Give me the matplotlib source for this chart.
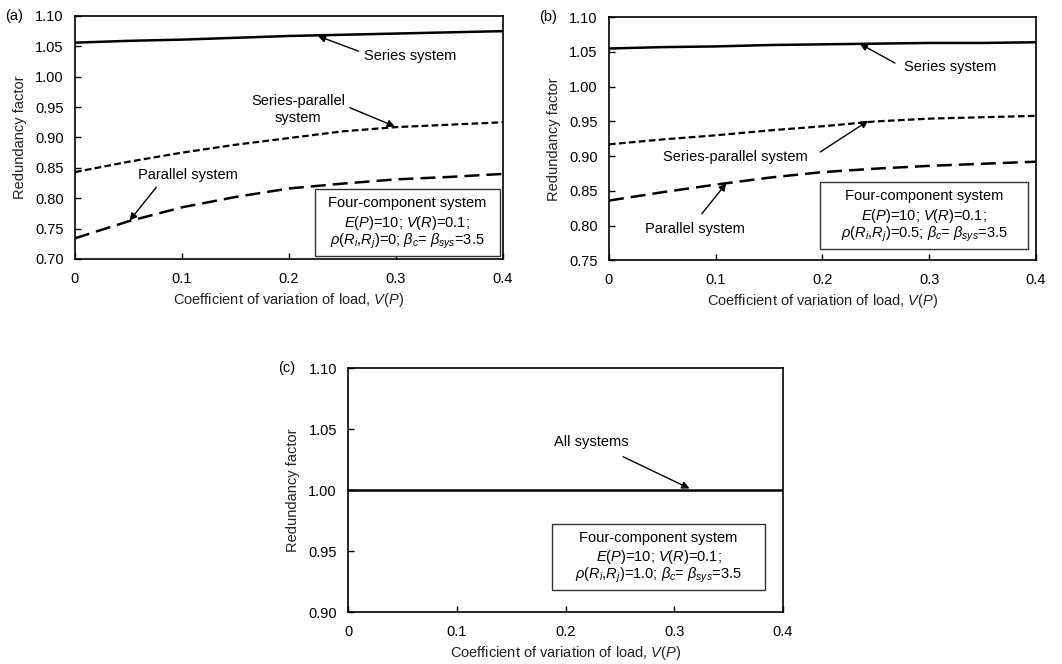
import matplotlib
matplotlib.use('Agg')
import matplotlib.pyplot as plt
from matplotlib.patches import Rectangle

plt.rcParams['font.family'] = ['Liberation Sans', 'DejaVu Sans']
plt.rcParams['mathtext.fontset'] = 'custom'
plt.rcParams['mathtext.rm'] = 'Liberation Sans'
plt.rcParams['mathtext.it'] = 'Liberation Sans:italic'
plt.rcParams['mathtext.bf'] = 'Liberation Sans:bold'

# coefficient of variation of load
vp = [0.0, 0.05, 0.1, 0.15, 0.2, 0.25, 0.3, 0.35, 0.4]

# (a) rho = 0
a_series = [1.056, 1.059, 1.061, 1.064, 1.067, 1.069, 1.071, 1.073, 1.075]
a_serpar = [0.843, 0.860, 0.875, 0.888, 0.899, 0.910, 0.917, 0.921, 0.925]
a_parallel = [0.734, 0.762, 0.785, 0.802, 0.816, 0.824, 0.831, 0.835, 0.840]

# (b) rho = 0.5
b_series = [1.055, 1.057, 1.058, 1.060, 1.061, 1.062, 1.063, 1.063, 1.064]
b_serpar = [0.917, 0.924, 0.930, 0.937, 0.943, 0.950, 0.954, 0.956, 0.958]
b_parallel = [0.836, 0.848, 0.859, 0.869, 0.877, 0.882, 0.886, 0.889, 0.892]

# (c) rho = 1.0
c_all = [1.0, 1.0, 1.0, 1.0, 1.0, 1.0, 1.0, 1.0, 1.0]

fig = plt.figure(figsize=(10.62, 6.64), dpi=100)

ax_a = fig.add_axes([0.0706, 0.610, 0.403, 0.366])
ax_b = fig.add_axes([0.5734, 0.608, 0.402, 0.366])
ax_c = fig.add_axes([0.3277, 0.078, 0.4096, 0.3675])

series_kw = dict(color='black', lw=1.8, ls='-')
serpar_kw = dict(color='black', lw=1.6, dashes=(3.0, 1.5))
par_kw = dict(color='black', lw=1.8, dashes=(6.0, 2.8))
arrow_kw = dict(arrowstyle='-|>', color='black', lw=1.0, mutation_scale=11,
                shrinkA=0, shrinkB=0)


def setup(ax, ylim, yticks, tag):
    ax.set_xlim(0, 0.4)
    ax.set_ylim(*ylim)
    ax.set_xticks([0, 0.1, 0.2, 0.3, 0.4])
    ax.set_xticklabels(['0', '0.1', '0.2', '0.3', '0.4'])
    ax.set_yticks(yticks)
    ax.set_yticklabels(['%.2f' % t for t in yticks])
    ax.tick_params(direction='in', length=4, width=1, labelsize=10.5)
    ax.tick_params(axis='x', pad=9.5)
    ax.tick_params(axis='y', pad=8)
    for s in ax.spines.values():
        s.set_linewidth(1.2)
    ax.set_xlabel('Coefficient of variation of load, $V$($P$)', fontsize=10.5,
                  color='#222222', labelpad=3.5)
    ax.set_ylabel('Redundancy factor', fontsize=10.5, color='#222222', labelpad=6)
    ax.text(-0.121, 1.0, tag, transform=ax.transAxes, fontsize=10.5,
            va='center', ha='right')


def info_box(ax, x0, x1, y0, y1, rho):
    ax.add_patch(Rectangle((x0, y0), x1 - x0, y1 - y0, fill=True, fc='white',
                           ec='#333333', lw=1.0, zorder=3))
    xc = (x0 + x1) / 2
    lines = ['Four-component system',
             '$E$($P$)=10; $V$($R$)=0.1;',
             r'$\rho$($R_i$,$R_j$)=' + rho + r'; $\beta_c$= $\beta_{sys}$=3.5']
    n = len(lines)
    for k, t in enumerate(lines):
        y = y1 - (y1 - y0) * (k + 0.75) / (n + 0.5)
        ax.text(xc, y, t, ha='center', va='center', fontsize=10.5, zorder=4)


# panel (a)
setup(ax_a, (0.70, 1.10), [0.70, 0.75, 0.80, 0.85, 0.90, 0.95, 1.00, 1.05, 1.10], '(a)')
ax_a.plot(vp, a_series, **series_kw)
ax_a.plot(vp, a_serpar, **serpar_kw)
ax_a.plot(vp, a_parallel, **par_kw)
ax_a.annotate('', xy=(0.227, 1.067), xytext=(0.265, 1.042), arrowprops=arrow_kw)
ax_a.text(0.313, 1.034, 'Series system', ha='center', va='center', fontsize=10.5)
ax_a.annotate('', xy=(0.299, 0.918), xytext=(0.257, 0.949), arrowprops=arrow_kw)
ax_a.text(0.2086, 0.946, 'Series-parallel\nsystem', ha='center', va='center',
          fontsize=10.5, linespacing=1.2)
ax_a.annotate('', xy=(0.051, 0.763), xytext=(0.076, 0.818), arrowprops=arrow_kw)
ax_a.text(0.106, 0.839, 'Parallel system', ha='center', va='center', fontsize=10.5)
info_box(ax_a, 0.224, 0.397, 0.705, 0.815, '0')

# panel (b)
setup(ax_b, (0.75, 1.10), [0.75, 0.80, 0.85, 0.90, 0.95, 1.00, 1.05, 1.10], '(b)')
ax_b.plot(vp, b_series, **series_kw)
ax_b.plot(vp, b_serpar, **serpar_kw)
ax_b.plot(vp, b_parallel, **par_kw)
ax_b.annotate('', xy=(0.235, 1.062), xytext=(0.268, 1.034), arrowprops=arrow_kw)
ax_b.text(0.3195, 1.028, 'Series system', ha='center', va='center', fontsize=10.5)
ax_b.annotate('', xy=(0.243, 0.951), xytext=(0.198, 0.906), arrowprops=arrow_kw)
ax_b.text(0.118, 0.899, 'Series-parallel system', ha='center', va='center', fontsize=10.5)
ax_b.annotate('', xy=(0.110, 0.861), xytext=(0.087, 0.817), arrowprops=arrow_kw)
ax_b.text(0.0806, 0.7955, 'Parallel system', ha='center', va='center', fontsize=10.5)
info_box(ax_b, 0.198, 0.393, 0.766, 0.863, '0.5')

# panel (c)
setup(ax_c, (0.90, 1.10), [0.90, 0.95, 1.00, 1.05, 1.10], '(c)')
ax_c.plot(vp, c_all, **series_kw)
ax_c.annotate('', xy=(0.314, 1.0014), xytext=(0.253, 1.0274), arrowprops=arrow_kw)
ax_c.text(0.2237, 1.0397, 'All systems', ha='center', va='center', fontsize=10.5)
info_box(ax_c, 0.188, 0.383, 0.9184, 0.9726, '1.0')

fig.savefig('out.png', dpi=100)
